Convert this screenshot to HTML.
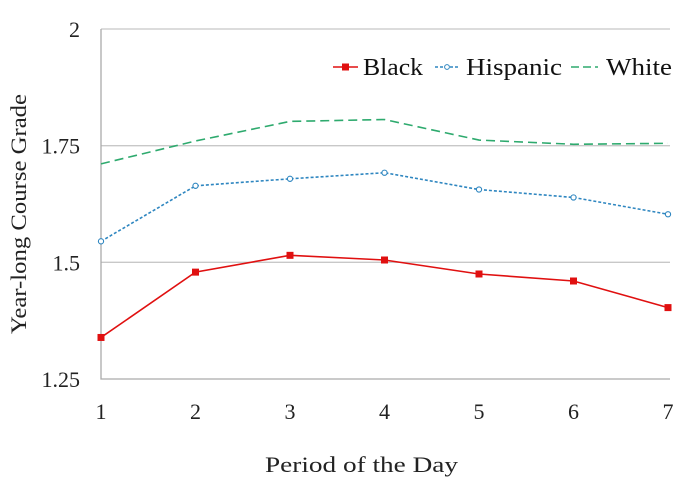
<!DOCTYPE html>
<html><head><meta charset="utf-8"><style>
body{margin:0;background:#fff}
svg{display:block;font-family:"Liberation Serif",serif}
</style></head><body>
<svg id="chart" width="689" height="500"></svg>
<script>
const categories=[1,2,3,4,5,6,7];
const black=[1.339,1.479,1.515,1.505,1.475,1.460,1.403];
const hispanic=[1.545,1.664,1.679,1.692,1.656,1.639,1.603];
const white=[1.711,1.760,1.802,1.806,1.762,1.753,1.755];
const yTicks=[1.25,1.5,1.75,2];
const yTickLabels=["1.25","1.5","1.75","2"];
const NS="http://www.w3.org/2000/svg";
const svg=document.getElementById('chart');
const x0=101,x1=668,yTop=29,yBot=379;
const xs=v=>x0+(v-1)*(x1-x0)/6;
const ys=v=>yBot-(v-1.25)*(yBot-yTop)/0.75;
function mk(t,a,p){const e=document.createElementNS(NS,t);for(const k in a)e.setAttribute(k,a[k]);(p||svg).appendChild(e);return e;}
yTicks.forEach((t,i)=>{
  if(t>1.25){const g=mk('line',{x1:x0,x2:670,y1:ys(t),y2:ys(t),stroke:'#c8c8c8','stroke-width':1.3});
  
  }
  const l=mk('text',{x:x0-21,y:ys(t)+8,'text-anchor':'end','font-size':22,fill:'#222'});l.textContent=yTickLabels[i];
  
  
});
const ax=mk('path',{d:`M${x0} ${yTop}V${yBot}H670`,fill:'none',stroke:'#aaa','stroke-width':1.3});


categories.forEach(c=>{const l=mk('text',{x:xs(c),y:419,'text-anchor':'middle','font-size':22,fill:'#222'});l.textContent=c;
  
  });
const xt=mk('text',{x:265,y:472,'font-size':22,fill:'#222',textLength:193,lengthAdjust:'spacingAndGlyphs'});xt.textContent='Period of the Day';


const yt=mk('text',{x:0,y:0,'text-anchor':'middle','font-size':22,fill:'#222',transform:'translate(26,214) rotate(-90)',textLength:240,lengthAdjust:'spacingAndGlyphs'});yt.textContent='Year-long Course Grade';


function series(vals,color,dash,marker,name){
  const p=mk('polyline',{points:vals.map((v,i)=>xs(categories[i])+','+ys(v)).join(' '),fill:'none',stroke:color,'stroke-width':1.6,'stroke-dasharray':dash});
  
  
  vals.forEach((v,i)=>{let m;
    if(marker==='sq')m=mk('rect',{x:xs(categories[i])-3.5,y:ys(v)-3.5,width:7,height:7,fill:color});
    else if(marker==='ci')m=mk('circle',{cx:xs(categories[i]),cy:ys(v),r:2.6,fill:'#fff',stroke:color,'stroke-width':1.1});
    if(m){
    }
  });
}
series(white,'#2eaa6e','9,5',null,'white');
series(hispanic,'#2e86c0','3,2','ci','hispanic');
series(black,'#e01010','none','sq','black');
// legend
const lg=mk('g',{});


mk('line',{x1:333,x2:358,y1:67,y2:67,stroke:'#e01010','stroke-width':1.6},lg);
mk('rect',{x:342,y:63.5,width:7,height:7,fill:'#e01010'},lg);
let t=mk('text',{x:363,y:75,'font-size':24,fill:'#111',textLength:60,lengthAdjust:'spacingAndGlyphs'},lg);t.textContent='Black';
mk('line',{x1:435,x2:460,y1:67,y2:67,stroke:'#2e86c0','stroke-width':1.4,'stroke-dasharray':'3,2'},lg);
mk('circle',{cx:447,cy:67,r:2.4,fill:'#fff',stroke:'#2e86c0','stroke-width':1},lg);
t=mk('text',{x:466,y:75,'font-size':24,fill:'#111',textLength:96,lengthAdjust:'spacingAndGlyphs'},lg);t.textContent='Hispanic';
mk('line',{x1:571,x2:598,y1:67,y2:67,stroke:'#2eaa6e','stroke-width':1.6,'stroke-dasharray':'8,4'},lg);
t=mk('text',{x:606,y:75,'font-size':24,fill:'#111',textLength:66,lengthAdjust:'spacingAndGlyphs'},lg);t.textContent='White';
</script>
</body></html>
